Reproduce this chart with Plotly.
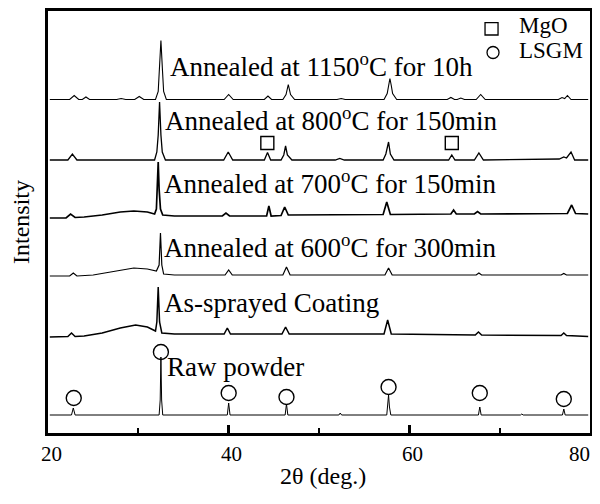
import plotly.graph_objects as go

# ---------------- data (2theta in degrees, intensity in arbitrary units) ----------------
tt_1150 = [20.2, 22.4, 22.9, 23.4, 23.8, 24.2, 24.6, 27.6, 28.1, 28.6, 29.6, 30.1, 30.6,
           31.9, 32.2, 32.32, 32.5, 32.68, 32.8, 33.1, 39.5, 40.0, 40.5, 43.95, 44.35, 44.75,
           46.0, 46.35, 46.6, 46.85, 47.3, 52.0, 52.45, 52.9, 57.2, 57.55, 57.7, 57.85, 58.0,
           58.15, 58.6, 64.2, 64.6, 65.0, 65.3, 65.7, 66.1, 67.4, 67.9, 68.4, 76.5, 76.9, 77.2,
           77.5, 77.9, 79.8]
int_1150 = [0, 0, 4, 0, 0, 2.5, 0, 0, 1, 0, 0, 3, 0,
            0, 8, 28, 59, 28, 8, 0, 0, 5, 0, 0, 3.5, 0,
            0, 5, 15, 5, 0, 0, 1, 0, 0, 6, 14, 21, 14,
            6, 0, 0, 2, 0, 0, 1.5, 0, 0, 5, 0, 0, 2, 1,
            4, 0, 0]

tt_800 = [20.2, 22.2, 22.7, 23.2, 31.8, 32.05, 32.2, 32.35, 32.5, 32.65, 33.0, 39.45, 39.95,
          40.45, 43.95, 44.3, 44.65, 45.8, 46.1, 46.3, 46.5, 47.0, 51.8, 52.3, 52.8, 57.1, 57.4,
          57.7, 57.9, 58.3, 64.35, 64.7, 65.05, 67.2, 67.7, 68.2, 76.6, 77.1, 77.4, 77.9, 78.3, 79.8]
int_800 = [0, 0, 6, 0, 0, 8, 25, 58, 25, 8, 0, 0, 8,
           0, 0, 7.5, 0, 0, 5, 14, 5, 0, 0, 1.5, 0, 0, 6,
           18, 6, 0, 0, 5, 0, 0, 7, 0, 1, 3, 2, 8, 0, 0]

tt_700 = [20.2, 22.0, 22.5, 23.0, 24.0, 26.0, 28.0, 29.5, 31.0, 31.8, 32.0, 32.1, 32.2, 32.3,
          32.45, 32.7, 34.0, 39.3, 39.7, 40.1, 44.2, 44.45, 44.7, 45.8, 46.2, 46.6, 52.0, 57.1,
          57.5, 57.9, 64.6, 64.9, 65.2, 67.2, 67.55, 67.9, 77.5, 77.97, 78.4, 79.8]
int_700 = [1, 1, 5, 1.5, 2, 4, 7, 8, 7, 5, 10, 30, 57, 30,
           10, 4, 3, 3, 6, 3, 3, 13, 3, 3.5, 12, 4, 4, 4.5,
           17, 4.5, 5, 9, 5, 5, 7.5, 5, 5.5, 14, 5.5, 5]

tt_600 = [20.2, 22.4, 22.8, 23.2, 25.0, 27.0, 29.5, 31.0, 32.0, 32.3, 32.45, 32.6, 32.8, 34.0,
          39.6, 40.0, 40.4, 46.0, 46.4, 46.8, 57.3, 57.7, 58.1, 67.4, 67.7, 68.0, 76.8, 77.1,
          77.4, 79.8]
int_600 = [1, 1, 4, 1, 2, 5, 9, 8, 6, 12, 44, 12, 3, 2,
           2, 7, 2, 2, 10, 2, 2, 9, 2, 2, 4, 2, 2, 3.5,
           2, 2]

tt_as = [20.2, 22.2, 22.6, 23.0, 24.0, 26.0, 28.0, 29.7, 31.0, 31.9, 32.05, 32.2, 32.35, 32.6,
         34.0, 39.5, 39.85, 40.2, 45.9, 46.3, 46.7, 57.2, 57.6, 58.0, 67.3, 67.65, 68.0, 76.8,
         77.1, 77.4, 79.8]
int_as = [0, 0.5, 4, 0.5, 1, 4, 9, 12, 10, 6, 15, 50, 15, 4,
          3, 3, 9, 3, 3, 10, 3, 3, 17, 3, 2, 5, 2, 1.5,
          4, 1.5, 0.5]

tt_raw = [20.2, 22.6, 22.8, 23.0, 32.3, 32.42, 32.5, 32.58, 32.7, 39.85, 40.0, 40.15, 46.25,
          46.4, 46.55, 52.2, 52.35, 52.5, 57.5, 57.6, 57.7, 57.8, 57.95, 67.65, 67.8, 67.95,
          72.3, 72.45, 72.6, 76.95, 77.1, 77.25, 79.8]
int_raw = [0, 0, 7, 0, 0, 15, 58, 15, 0, 0, 12, 0, 0,
           11, 0, 0, 2, 0, 0, 8, 20, 8, 0, 0, 8, 0,
           0, 1, 0, 0, 6, 0, 0]

series_names = ["Annealed at 1150<sup>o</sup>C for 10h",
                "Annealed at 800<sup>o</sup>C for 150min",
                "Annealed at 700<sup>o</sup>C for 150min",
                "Annealed at 600<sup>o</sup>C for 300min",
                "As-sprayed Coating",
                "Raw powder"]
series_tt = [tt_1150, tt_800, tt_700, tt_600, tt_as, tt_raw]
series_int = [int_1150, int_800, int_700, int_600, int_as, int_raw]
series_offset = [333.5, 273, 214, 156, 96, 18]
series_width = [1.1, 1.3, 1.7, 1.2, 1.5, 1.0]

# phase markers
lsgm_tt = [22.85, 32.5, 40.0, 46.4, 57.7, 67.8, 77.1]
lsgm_y = [35, 81, 40, 36, 46, 40, 34]
mgo_tt = [44.28, 64.7]
mgo_y = [290, 290]

# x tick labels
x_tick_vals = [20, 40, 60, 80]
x_tick_text = ["20", "40", "60", "80"]

# label anchor (2theta of left edge, y centre) for each pattern
label_tt = [33.25, 32.78, 32.67, 32.67, 32.67, 33.0]
label_y = [368, 314.3, 251, 187.5, 130, 66]

FONT = "Liberation Serif"

fig = go.Figure()
for tt, iv, off, w in zip(series_tt, series_int, series_offset, series_width):
    fig.add_trace(go.Scatter(x=tt, y=[off + v for v in iv], mode="lines",
                             line=dict(color="black", width=w), showlegend=False,
                             hoverinfo="skip"))

fig.add_trace(go.Scatter(x=lsgm_tt, y=lsgm_y, mode="markers", showlegend=False,
                         marker=dict(symbol="circle-open", size=15, color="black",
                                     line=dict(width=1.4, color="black"))))
fig.add_trace(go.Scatter(x=mgo_tt, y=mgo_y, mode="markers", showlegend=False,
                         marker=dict(symbol="square-open", size=13, color="black",
                                     line=dict(width=1.4, color="black"))))

annotations = []
for name, x, y in zip(series_names, label_tt, label_y):
    annotations.append(dict(x=x, y=y, xref="x", yref="y", text=name, showarrow=False,
                            xanchor="left", yanchor="middle",
                            font=dict(family=FONT, size=27, color="black")))

# legend (drawn manually)
annotations.append(dict(x=71.9, y=407.5, xref="x", yref="y", text="MgO", showarrow=False,
                        xanchor="left", yanchor="middle",
                        font=dict(family=FONT, size=23, color="black")))
annotations.append(dict(x=71.9, y=383, xref="x", yref="y", text="LSGM", showarrow=False,
                        xanchor="left", yanchor="middle",
                        font=dict(family=FONT, size=23, color="black")))

# x tick labels placed on the x scale (the last one kept inside the page)
for v, t in zip(x_tick_vals, x_tick_text):
    last = v == x_tick_vals[-1]
    annotations.append(dict(x=v, y=0, xref="x", yref="paper", text=t, showarrow=False,
                            xanchor="right" if last else "center", yanchor="middle",
                            xshift=2 if last else 3, yshift=-21,
                            font=dict(family=FONT, size=21, color="black")))

# x axis title
annotations.append(dict(x=0.5, y=0, xref="paper", yref="paper", text="2θ (deg.)",
                        showarrow=False, xanchor="center", yanchor="middle",
                        yshift=-43, xshift=4,
                        font=dict(family=FONT, size=24, color="black")))

shapes = [
    dict(type="rect", xref="x", yref="y", x0=68.38, x1=69.82, y0=398, y1=410.3,
         line=dict(color="black", width=1.3)),
    dict(type="circle", xref="x", yref="y", x0=68.6, x1=69.93, y0=374.5, y1=386.5,
         line=dict(color="black", width=1.3)),
]

# the page body adds an 8px margin on every side; keep the figure inside the window
fig.update_layout(
    width=584, height=482,
    margin=dict(l=40, r=2, t=3, b=57, autoexpand=False),
    paper_bgcolor="white", plot_bgcolor="white",
    annotations=annotations, shapes=shapes,
    font=dict(family=FONT, color="black"),
    xaxis=dict(range=[20, 80], showgrid=False, zeroline=False, automargin=False,
               showline=True, linewidth=3, linecolor="black", mirror=True,
               ticks="inside", ticklen=8, tickwidth=2.5, tickcolor="black",
               tick0=20, dtick=20, showticklabels=False,
               minor=dict(ticks="inside", ticklen=5, tickwidth=2, tickcolor="black",
                          dtick=10, showgrid=False)),
    yaxis=dict(range=[0, 422], showgrid=False, zeroline=False, automargin=False,
               showline=True, linewidth=3, linecolor="black", mirror=True,
               ticks="", showticklabels=False,
               title=dict(text="Intensity", font=dict(family=FONT, size=24, color="black"),
                          standoff=10)),
)

fig.write_html("out.html")
